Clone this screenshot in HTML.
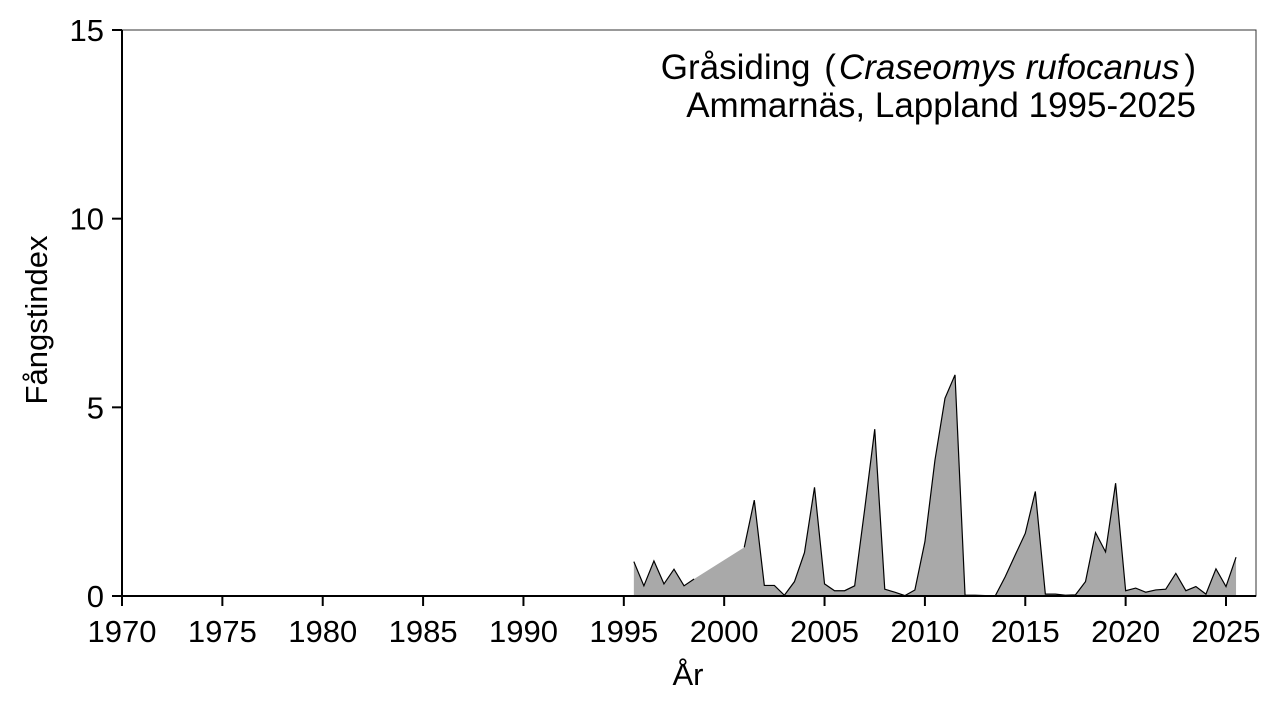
<!DOCTYPE html>
<html><head><meta charset="utf-8"><style>
html,body{margin:0;padding:0;background:#fff;}
svg{display:block;font-family:"Liberation Sans",sans-serif;}
</style></head><body>
<svg id="chart" width="1280" height="720" xmlns="http://www.w3.org/2000/svg">
<rect x="0" y="0" width="1280" height="720" fill="#fff"/>
<g id="plot"></g>
<text x="1196" y="79" text-anchor="end" font-size="35">Gråsiding <tspan dx="4">(</tspan><tspan dx="3" font-style="italic">Craseomys rufocanus</tspan><tspan dx="5">)</tspan></text>
<text x="1196" y="117" text-anchor="end" font-size="35">Ammarnäs, Lappland 1995-2025</text>
<text x="688" y="685" text-anchor="middle" font-size="31">År</text>
<text transform="translate(47,320) rotate(-90)" text-anchor="middle" font-size="31">Fångstindex</text>
</svg>
<script>
const years = [1995.5,1996,1996.5,1997,1997.5,1998,1998.5,2001,2001.5,2002,2002.5,2003,2003.5,2004,2004.5,2005,2005.5,2006,2006.5,2007,2007.5,2008,2008.5,2009,2009.5,2010,2010.5,2011,2011.5,2012,2012.5,2013,2013.5,2014,2014.5,2015,2015.5,2016,2016.5,2017,2017.5,2018,2018.5,2019,2019.5,2020,2020.5,2021,2021.5,2022,2022.5,2023,2023.5,2024,2024.5,2025,2025.5];
const values = [0.91,0.27,0.93,0.32,0.71,0.27,0.45,1.29,2.54,0.28,0.28,0.02,0.38,1.15,2.88,0.32,0.14,0.14,0.27,2.3,4.42,0.18,0.1,0.01,0.16,1.44,3.6,5.24,5.86,0.02,0.02,0.01,0.0,0.51,1.09,1.66,2.77,0.05,0.05,0.02,0.03,0.38,1.68,1.17,2.99,0.14,0.21,0.1,0.16,0.18,0.6,0.14,0.25,0.05,0.72,0.25,1.03];
const lineBreakAfter = [6];
const xTicks = [1970,1975,1980,1985,1990,1995,2000,2005,2010,2015,2020,2025];
const yTicks = [0,5,10,15];

const L=122,R=1256,T=30,B=596;
const xs = y => L + (y-1970)*(1226-122)/55;
const ys = v => B - v*(B-T)/15;
const NS="http://www.w3.org/2000/svg";
const g=document.getElementById('plot');
function el(t,a){const e=document.createElementNS(NS,t);for(const k in a)e.setAttribute(k,a[k]);g.appendChild(e);return e;}

let d='M'+xs(years[0])+','+ys(0);
years.forEach((y,i)=>{d+=' L'+xs(y)+','+ys(values[i]);});
d+=' L'+xs(years[years.length-1])+','+ys(0)+' Z';
const area=el('path',{d:d,fill:'#a9a9a9',stroke:'none'});



let segs=[],cur=[];
years.forEach((y,i)=>{cur.push(xs(y)+','+ys(values[i]));if(lineBreakAfter.includes(i)){segs.push(cur);cur=[];}});
segs.push(cur);
segs.forEach(s=>{
  const ln=el('polyline',{points:s.join(' '),fill:'none',stroke:'#000','stroke-width':1.2,'stroke-linejoin':'miter'});
  
  
});

const frame=el('rect',{x:L,y:T,width:R-L,height:B-T,fill:'none',stroke:'#333','stroke-width':1});


const xa=el('line',{x1:L,y1:B,x2:R,y2:B,stroke:'#000','stroke-width':2});


const ya=el('line',{x1:L,y1:T,x2:L,y2:B,stroke:'#000','stroke-width':2});



xTicks.forEach(t=>{
  const tk=el('line',{x1:xs(t),y1:B,x2:xs(t),y2:B+10,stroke:'#000','stroke-width':2});
  
  
  const tx=el('text',{x:xs(t),y:B+46,'text-anchor':'middle','font-size':31});
  tx.textContent=t;
  
  
});
yTicks.forEach(t=>{
  const tk=el('line',{x1:L-10,y1:ys(t),x2:L,y2:ys(t),stroke:'#000','stroke-width':2});
  
  
  const tx=el('text',{x:L-18,y:ys(t)+11,'text-anchor':'end','font-size':31});
  tx.textContent=t;
  
  
});
</script>
</body></html>
